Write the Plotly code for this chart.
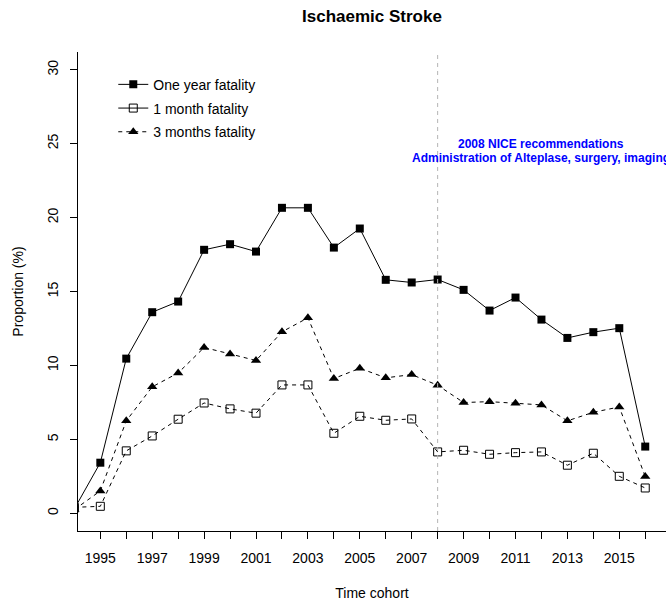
import plotly.graph_objects as go

# cohort years (1994 sits just left of the visible range, as in the original)
years = list(range(1994, 2017))

one_year = [0.3, 3.42, 10.46, 13.60, 14.32, 17.82, 18.20, 17.70, 20.66, 20.66, 17.97,
            19.26, 15.79, 15.61, 15.81, 15.11, 13.71, 14.59, 13.10, 11.86, 12.25, 12.52, 4.51]
one_month = [0.4, 0.47, 4.22, 5.23, 6.36, 7.46, 7.06, 6.77, 8.68, 8.68, 5.41,
             6.56, 6.29, 6.38, 4.15, 4.26, 3.99, 4.10, 4.15, 3.25, 4.06, 2.50, 1.71]
three_months = [0.25, 1.51, 6.25, 8.55, 9.49, 11.21, 10.78, 10.33, 12.27, 13.22, 9.11,
                9.81, 9.16, 9.38, 8.66, 7.49, 7.55, 7.44, 7.33, 6.25, 6.83, 7.19, 2.48]

tick_years = list(range(1995, 2017))
tick_labels = [str(y) if y % 2 == 1 else "" for y in tick_years]
y_ticks = [0, 5, 10, 15, 20, 25, 30]

nice_year = 2008
note_x = 2012
note_lines = [(25, "2008 NICE recommendations"),
              (24, "Administration of Alteplase, surgery, imaging")]

FONT = "Liberation Sans, Arial, sans-serif"
INK = "black"

fig = go.Figure()

series = [
    (one_year, "solid", dict(symbol="square", size=8, color=INK)),
    (one_month, "4px,4px", dict(symbol="square-open", size=8, color=INK, line=dict(width=1, color=INK))),
    (three_months, "4px,4px", dict(symbol="triangle-up", size=9, color=INK)),
]
for vals, dash, marker in series:
    fig.add_trace(go.Scatter(
        x=years, y=vals, mode="lines+markers",
        line=dict(color=INK, width=1, dash=dash),
        marker=marker, showlegend=False, hoverinfo="skip"
    ))

# legend entries (1 month drawn solid in the legend, as in the original)
legend_items = [
    ("One year fatality", "solid", dict(symbol="square", size=8, color=INK)),
    ("1 month fatality", "solid", dict(symbol="square-open", size=8, color=INK, line=dict(width=1, color=INK))),
    ("3 months fatality", "4px,4px", dict(symbol="triangle-up", size=9, color=INK)),
]
for i, (name, dash, marker) in enumerate(legend_items):
    fig.add_trace(go.Scatter(
        x=[None], y=[None], mode="lines+markers", name=name, legendgroup=f"g{i}",
        line=dict(color=INK, width=1, dash=dash), marker=marker
    ))

fig.add_vline(x=nice_year, line=dict(color="#b4b4b4", width=1, dash="4px,4px"))

for y, txt in note_lines:
    fig.add_annotation(x=note_x, y=y, text=f"<b>{txt}</b>", showarrow=False,
                       xanchor="center", yanchor="middle",
                       font=dict(family=FONT, size=12, color="#0000ff"))

fig.update_layout(
    width=666, height=602,
    margin=dict(l=78, r=0, t=52, b=71),
    paper_bgcolor="white", plot_bgcolor="white",
    font=dict(family=FONT, size=14, color="black"),
    title=dict(text="<b>Ischaemic Stroke</b>", xref="paper", x=0.5, xanchor="center",
               yref="container", y=1 - 16 / 602, yanchor="middle",
               font=dict(family=FONT, size=17, color="black")),
    legend=dict(x=0.06, y=0.965, xanchor="left", yanchor="top", bgcolor="rgba(0,0,0,0)",
                tracegroupgap=2.5, font=dict(family=FONT, size=14, color="black")),
    hovermode=False,
)

fig.update_xaxes(
    range=[1994.14, 2016.80], showgrid=False, zeroline=False,
    showline=True, linecolor=INK, linewidth=1,
    tickmode="array", tickvals=tick_years, ticktext=tick_labels,
    ticks="outside", ticklen=7, tickcolor=INK, tickwidth=1, ticklabelstandoff=7,
    title=dict(text="Time cohort", standoff=23, font=dict(family=FONT, size=14)),
)
fig.update_yaxes(
    range=[-1.2, 31.2], showgrid=False, zeroline=False,
    showline=True, linecolor=INK, linewidth=1,
    tickmode="array", tickvals=y_ticks, tickangle=-90,
    ticks="outside", ticklen=7, tickcolor=INK, tickwidth=1, ticklabelstandoff=6,
    title=dict(text="Proportion (%)", standoff=18, font=dict(family=FONT, size=14)),
)

# the page body has a default 8px margin; drop it so the figure sits at the corner
fig.write_html("out.html", config={"displayModeBar": False},
               post_script="document.body.style.margin = '0px';")
